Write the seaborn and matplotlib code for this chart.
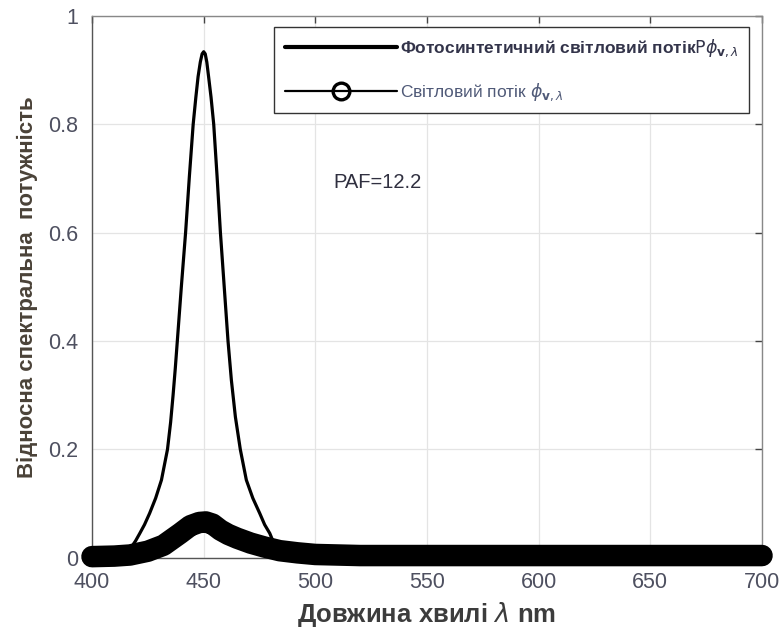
import matplotlib
matplotlib.use("Agg")
import matplotlib.pyplot as plt
from matplotlib.lines import Line2D
import seaborn as sns
import pandas as pd

# ---- data ----
ps_wl = [400, 410, 414, 416, 417.7, 419.5, 421.4, 423.5, 425.8, 428.5, 431.1,
         433.8, 435.2, 436.3, 437.3, 438.2, 440.0, 441.9, 443.6, 445.3, 446.5,
         447.5, 448.5, 449.3, 450.0, 450.7, 451.4, 452.2, 453.3, 454.5, 456.0,
         457.5, 459.2, 460.9, 462.4, 464.2, 466.4, 469.1, 472.0, 475.1, 477.3,
         479.6, 481.0, 482.6, 484.5, 486.0, 490.0, 500, 550, 600, 650, 700]
ps_val = [0.0, 0.0, 0.003, 0.012, 0.020, 0.031, 0.045, 0.061, 0.082, 0.110,
          0.1435, 0.2, 0.25, 0.30, 0.35, 0.4, 0.5, 0.6, 0.704, 0.8, 0.85,
          0.888, 0.915, 0.93, 0.934, 0.93, 0.915, 0.888, 0.85, 0.8, 0.704,
          0.6, 0.5, 0.4, 0.328, 0.26, 0.2, 0.1435, 0.110, 0.082, 0.061,
          0.045, 0.031, 0.020, 0.012, 0.007, 0.002, 0.0, 0.0, 0.0, 0.0, 0.0]

lf_wl = [400, 410, 417, 425, 432, 439.5, 444, 448, 451, 454, 457.5, 461, 465,
         471, 477, 484, 492, 500, 520, 550, 600, 650, 700]
lf_val = [0.002, 0.003, 0.005, 0.012, 0.023, 0.045, 0.059, 0.065, 0.066, 0.062,
          0.051, 0.043, 0.036, 0.027, 0.020, 0.013, 0.009, 0.006, 0.004, 0.004,
          0.004, 0.004, 0.004]

x_ticks = [400, 450, 500, 550, 600, 650, 700]
y_ticks = [0, 0.2, 0.4, 0.6, 0.8, 1.0]
y_ticklabels = ["0", "0.2", "0.4", "0.6", "0.8", "1"]

label_ps = "Фотосинтетичний світловий потік"
label_lf = "Світловий потік "
paf_text = "PAF=12.2"
xlabel = r"Довжина хвилі $\lambda$ nm"
ylabel = "Відносна спектральна  потужність"

# ---- style ----
sns.set_theme(style="whitegrid")
plt.rcParams["font.family"] = ["Liberation Sans", "DejaVu Sans"]
plt.rcParams["mathtext.fontset"] = "dejavusans"

fig = plt.figure(figsize=(7.83, 6.39), dpi=100)
ax = fig.add_axes([0.1175, 0.1272, 0.8557, 0.8478])
ax.set_facecolor("white")

df_ps = pd.DataFrame({"wl": ps_wl, "val": ps_val})
df_lf = pd.DataFrame({"wl": lf_wl, "val": lf_val})

sns.lineplot(data=df_ps, x="wl", y="val", ax=ax, color="black", linewidth=2.3,
             estimator=None, zorder=3, solid_joinstyle="round")
sns.lineplot(data=df_lf, x="wl", y="val", ax=ax, color="black", linewidth=15.5,
             estimator=None, zorder=4, solid_capstyle="round",
             solid_joinstyle="round", clip_on=False)

ax.set_xlim(400, 700)
ax.set_ylim(0, 1)
ax.set_xticks(x_ticks)
ax.set_xticklabels([str(t) for t in x_ticks])
ax.set_yticks(y_ticks)
ax.set_yticklabels(y_ticklabels)

ax.grid(True, color="#e4e4e4", linewidth=0.9)
ax.tick_params(direction="in", length=5, width=1, color="#444444",
               labelsize=15.5, labelcolor="#4e5060", top=True, right=True)
ax.tick_params(axis="x", pad=10)
ax.tick_params(axis="y", pad=10)
for s in ["left", "bottom"]:
    ax.spines[s].set_color("#555555")
    ax.spines[s].set_linewidth(1.0)
for s in ["top", "right"]:
    ax.spines[s].set_color("#888888")
    ax.spines[s].set_linewidth(1.0)

ax.set_xlabel(xlabel, fontsize=18.5, fontweight="bold", color="#3c3c3c",
              labelpad=5)
ax.set_ylabel(ylabel, fontsize=16, fontweight="bold", color="#4a4238",
              labelpad=7)

ax.text(508, 0.692, paf_text, fontsize=14.5, color="#303040", ha="left",
        va="center")

h1 = Line2D([], [], color="black", linewidth=3)
h2 = Line2D([], [], color="black", linewidth=1.6, marker="o", markersize=12,
            markerfacecolor="none", markeredgewidth=2.4)
leg = ax.legend([h1, h2],
                [label_ps + r"$\mathrm{P}\phi_{\mathbf{v},\lambda}$",
                 label_lf + r"$\phi_{\mathbf{v},\lambda}$"],
                loc="upper right", bbox_to_anchor=(0.981, 0.980),
                borderaxespad=0, fancybox=False, framealpha=1,
                edgecolor="#333333", fontsize=12.5, handlelength=6.5,
                handletextpad=0.15, labelspacing=1.3, borderpad=0.6)
leg.get_frame().set_linewidth(1.0)
leg.set_zorder(6)
t1, t2 = leg.get_texts()
t1.set_fontweight("bold")
t1.set_color("#33344a")
t2.set_color("#505a78")

fig.savefig("out.png", dpi=100)
